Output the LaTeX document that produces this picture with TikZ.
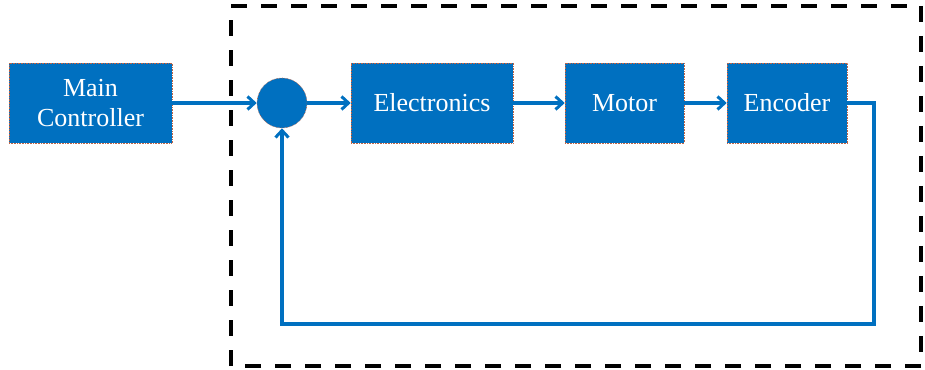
\documentclass[tikz,border=0pt]{standalone}
\usepackage{fontspec}
\setmainfont{Liberation Serif}
\usetikzlibrary{arrows.meta}
\definecolor{boxblue}{RGB}{0,112,192}
\definecolor{edgered}{RGB}{190,100,70}
\tikzset{
  blk/.style={rectangle, fill=boxblue, draw=edgered, densely dotted, line width=0.6pt,
    text=white, font=\fontsize{26}{30}\selectfont, align=center, inner sep=0pt},
  sumnode/.style={circle, fill=boxblue, draw=edgered, densely dotted, line width=0.6pt,
    minimum size=50pt, inner sep=0pt},
  conn/.style={draw=boxblue, line width=3.2pt, -{Straight Barb[length=7pt,width=13pt,line width=3pt]}},
  frame/.style={draw=black, line width=3.8pt, dash pattern=on 16pt off 14pt}
}
\begin{document}
\begin{tikzpicture}[x=1pt,y=1pt]
\useasboundingbox (0,0) rectangle (925,369);
\draw[frame] (231,3) rectangle (921,363);
\node[blk, minimum width=163pt, minimum height=80pt] (mc) at (90.5,266) {Main\\Controller};
\node[sumnode] (sum) at (282,266) {};
\node[blk, minimum width=162pt, minimum height=80pt] (el) at (432,266) {Electronics};
\node[blk, minimum width=119pt, minimum height=80pt] (mo) at (624.5,266) {Motor};
\node[blk, minimum width=120pt, minimum height=80pt] (en) at (787,266) {Encoder};
\coordinate (c1) at (874,266);
\coordinate (c2) at (874,45);
\coordinate (c3) at (282,45);
\draw[conn] (mc) -- (sum);
\draw[conn] (sum) -- (el);
\draw[conn] (el) -- (mo);
\draw[conn] (mo) -- (en);
\draw[conn] (en.east) -- (c1) -- (c2) -- (c3) -- (sum.south);
\end{tikzpicture}
\end{document}
